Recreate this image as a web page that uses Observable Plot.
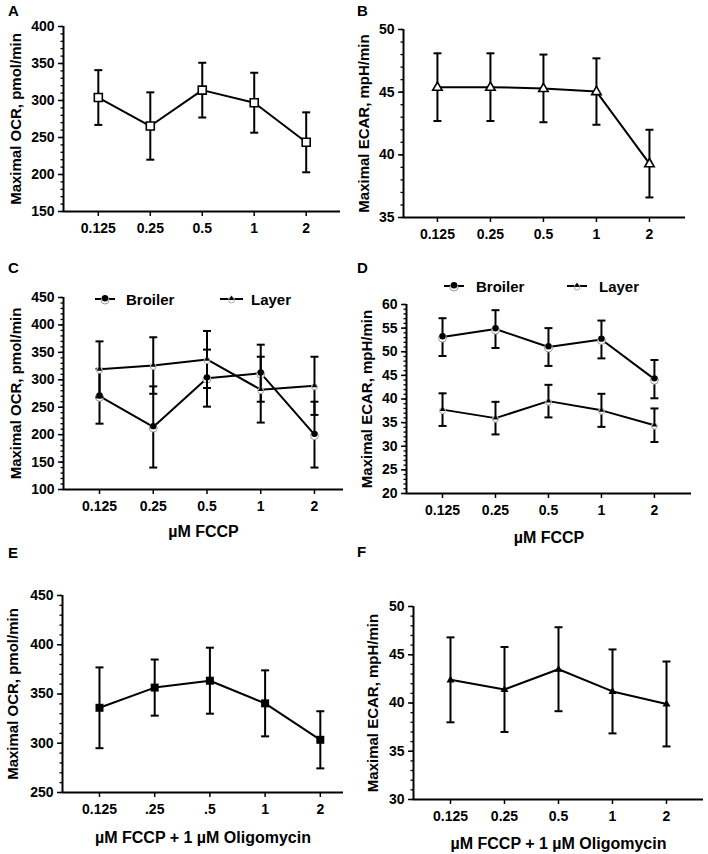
<!DOCTYPE html>
<html><head><meta charset="utf-8">
<script src="https://cdn.jsdelivr.net/npm/d3@7"></script>
<script src="https://cdn.jsdelivr.net/npm/@observablehq/plot@0.6"></script>
<style>
body{margin:0;background:#fff;}
#root{position:relative;width:708px;height:854px;overflow:hidden;font-family:"Liberation Sans",Arial,sans-serif;font-weight:bold;color:#000;}
.panel{position:absolute;overflow:hidden;}
.letter{position:absolute;font-size:15px;line-height:1;}
</style></head><body><div id="root"></div>
<script>
// ---- data ----
const doseLabels = ["0.125", "0.25", "0.5", "1", "2"];
const doseLabelsE = ["0.125", ".25", ".5", "1", "2"];

const aMean = [304, 265.5, 314, 297, 243.5];
const aSem  = [37, 45.5, 37, 40.5, 40.5];

const bMean = [45.4, 45.4, 45.3, 45.05, 39.3];
const bSem  = [2.7, 2.7, 2.7, 2.65, 2.7];

const cBroilerMean = [270, 214, 303, 312, 200];
const cBroilerSem  = [50, 74, 52, 52, 60];
const cLayerMean   = [319, 326, 337, 282, 289];
const cLayerSem    = [51, 51.5, 52, 60, 53];

const dBroilerMean = [53.1, 54.8, 51.0, 52.6, 44.2];
const dBroilerSem  = [4.0, 4.0, 4.0, 4.0, 4.05];
const dLayerMean   = [37.75, 35.95, 39.55, 37.6, 34.45];
const dLayerSem    = [3.45, 3.45, 3.45, 3.5, 3.55];

const eMean = [336, 356.5, 363.5, 340.5, 303.5];
const eSem  = [41, 28.5, 33.5, 33.5, 29];

const fMean = [42.4, 41.4, 43.5, 41.2, 39.9];
const fSem  = [4.4, 4.4, 4.35, 4.35, 4.4];

const seriesNames = ["Broiler", "Layer"];

// ---- helpers ----
const rows = (m, s) => m.map((v, i) => ({i, mean: v, lo: v - s[i], hi: v + s[i]}));
const capSym = w => ({draw(ctx){ ctx.moveTo(-w, 0); ctx.lineTo(w, 0); }});
const triSym = s => ({draw(ctx){ const h = s * 0.866; ctx.moveTo(0, -h * 0.62); ctx.lineTo(s / 2, h * 0.38); ctx.lineTo(-s / 2, h * 0.38); ctx.closePath(); }});
const sqSym = s => ({draw(ctx){ ctx.rect(-s / 2, -s / 2, s, s); }});
const circSym = r => ({draw(ctx){ ctx.moveTo(r, 0); ctx.arc(0, 0, r, 0, 2 * Math.PI); }});

function seriesMarks(data, markers) {
  return [
    Plot.ruleX(data, {x: "i", y1: "lo", y2: "hi", stroke: "black", strokeWidth: 2}),
    Plot.dot(data, {x: "i", y: "hi", symbol: capSym(4), stroke: "black", strokeWidth: 2, fill: "none"}),
    Plot.dot(data, {x: "i", y: "lo", symbol: capSym(4), stroke: "black", strokeWidth: 2, fill: "none"}),
    Plot.line(data, {x: "i", y: "mean", stroke: "black", strokeWidth: 2}),
    ...markers.map(mk => Plot.dot(data, {x: "i", y: "mean", ...mk}))
  ];
}

const broilerMarkers = [
  {symbol: circSym(4), stroke: "#9a9a9a", strokeWidth: 1, fill: "white", dy: 1},
  {symbol: circSym(3.2), fill: "black", dy: -0.8}
];
const layerMarkers = [
  {symbol: circSym(3), stroke: "#aaaaaa", strokeWidth: 1, fill: "white", dy: 1},
  {symbol: triSym(5.5), fill: "black", dy: -0.5}
];

const root = document.getElementById("root");

function letter(t, x, baseline) {
  const d = document.createElement("div");
  d.className = "letter";
  d.textContent = t;
  d.style.left = x + "px";
  d.style.top = (baseline - 12.7) + "px";
  root.appendChild(d);
}

function panel(cfg) {
  const {left, top, width, height, ax, xEnd, yTop, yBot, yDomain, major, minor,
         padL, padR, ticks, ylabel, ylabelX, xlabel, xlabelY, series, legend} = cfg;
  const marks = [
    Plot.axisY(minor, {tickSize: 2.5, tickFormat: () => "", label: null, strokeWidth: 1.3}),
    Plot.axisY(major, {tickSize: 5, tickPadding: 4, label: null, strokeWidth: 1.5, fontSize: 14}),
    Plot.axisX([0, 1, 2, 3, 4], {tickSize: 5, tickPadding: 7, tickFormat: i => ticks[i], label: null, strokeWidth: 1.5, fontSize: 14}),
    Plot.ruleX([-padL], {stroke: "black", strokeWidth: 2}),
    Plot.ruleY([yDomain[0]], {stroke: "black", strokeWidth: 2}),
    Plot.text([ylabel], {text: d => d, frameAnchor: "left", textAnchor: "middle", lineAnchor: "middle", rotate: -90, dx: ylabelX - ax, fontSize: 15, fontWeight: "bold"})
  ];
  if (xlabel) marks.push(Plot.text([xlabel], {text: d => d, frameAnchor: "bottom", textAnchor: "middle", dy: xlabelY - yBot, lineAnchor: "middle", fontSize: 16, fontWeight: "bold"}));
  series.forEach(s => marks.push(...seriesMarks(s.data, s.markers)));
  const svg = Plot.plot({
    width, height,
    marginLeft: ax - left, marginRight: left + width - xEnd,
    marginTop: yTop - top, marginBottom: top + height - yBot,
    x: {type: "linear", domain: [-padL, 4 + padR]},
    y: {domain: yDomain},
    style: {fontFamily: "'Liberation Sans', Arial, sans-serif", fontSize: "14px", fontWeight: "bold", color: "black", background: "transparent", overflow: "visible"},
    marks
  });
  if (legend) {
    const g = d3.select(svg).append("g").attr("font-size", 15).attr("font-weight", "bold").attr("fill", "black").attr("text-anchor", "start");
    legend.forEach((L, k) => {
      const y = L.y - top;
      g.append("line").attr("x1", L.x1 - left).attr("x2", L.x2 - left).attr("y1", y).attr("y2", y).attr("stroke", "black").attr("stroke-width", 2);
      const cx = (L.x1 + L.x2) / 2 - left;
      if (k === 0) {
        g.append("circle").attr("cx", cx).attr("cy", y + 1).attr("r", 4).attr("fill", "white").attr("stroke", "#9a9a9a");
        g.append("circle").attr("cx", cx).attr("cy", y - 0.8).attr("r", 3.2).attr("fill", "black");
      } else {
        g.append("circle").attr("cx", cx).attr("cy", y + 1).attr("r", 3).attr("fill", "white").attr("stroke", "#aaaaaa");
        g.append("path").attr("d", `M${cx},${y - 3.5}L${cx + 2.8},${y + 1}L${cx - 2.8},${y + 1}Z`).attr("fill", "black");
      }
      g.append("text").attr("x", L.tx - left).attr("y", y + 5.5).attr("text-anchor", "start").text(seriesNames[k]);
    });
  }
  const div = document.createElement("div");
  div.className = "panel";
  div.style.left = left + "px";
  div.style.top = top + "px";
  div.style.width = width + "px";
  div.style.height = height + "px";
  div.appendChild(svg);
  root.appendChild(div);
}

// A
panel({left: 0, top: 0, width: 354, height: 262, ax: 63, xEnd: 340, yTop: 26, yBot: 211,
  yDomain: [150, 400], major: d3.range(150, 401, 50), minor: d3.range(150, 401, 10),
  padL: 0.67, padR: 0.66, ticks: doseLabels, ylabel: "Maximal OCR, pmol/min", ylabelX: 16,
  series: [{data: rows(aMean, aSem), markers: [{symbol: sqSym(8), stroke: "black", strokeWidth: 1.6, fill: "white"}]}]});
// B
panel({left: 354, top: 0, width: 354, height: 262, ax: 403, xEnd: 685, yTop: 29, yBot: 217,
  yDomain: [35, 50], major: d3.range(35, 51, 5), minor: d3.range(35, 51, 1),
  padL: 0.64, padR: 0.68, ticks: doseLabels, ylabel: "Maximal ECAR, mpH/min", ylabelX: 364,
  series: [{data: rows(bMean, bSem), markers: [{symbol: triSym(9.5), stroke: "black", strokeWidth: 1.6, fill: "white"}]}]});
// C
panel({left: 0, top: 262, width: 354, height: 280, ax: 63, xEnd: 343, yTop: 297, yBot: 489,
  yDomain: [100, 450], major: d3.range(100, 451, 50), minor: d3.range(100, 451, 10),
  padL: 0.67, padR: 0.54, ticks: doseLabels, ylabel: "Maximal OCR, pmol/min", ylabelX: 15.5,
  xlabel: "µM FCCP", xlabelY: 531,
  series: [{data: rows(cBroilerMean, cBroilerSem), markers: broilerMarkers},
           {data: rows(cLayerMean, cLayerSem), markers: layerMarkers}],
  legend: [{x1: 95, x2: 115, y: 299, tx: 126}, {x1: 220, x2: 243, y: 299, tx: 251}]});
// D
panel({left: 354, top: 262, width: 354, height: 285, ax: 406, xEnd: 691, yTop: 304, yBot: 493,
  yDomain: [20, 60], major: d3.range(20, 61, 5), minor: d3.range(20, 61, 1),
  padL: 0.68, padR: 0.70, ticks: doseLabels, ylabel: "Maximal ECAR, mpH/min", ylabelX: 367,
  xlabel: "µM FCCP", xlabelY: 537,
  series: [{data: rows(dBroilerMean, dBroilerSem), markers: broilerMarkers},
           {data: rows(dLayerMean, dLayerSem), markers: layerMarkers}],
  legend: [{x1: 444, x2: 464, y: 286, tx: 476}, {x1: 567, x2: 587, y: 286, tx: 599}]});
// E
panel({left: 0, top: 540, width: 354, height: 314, ax: 62, xEnd: 343, yTop: 595, yBot: 792,
  yDomain: [250, 450], major: d3.range(250, 451, 50), minor: d3.range(250, 451, 10),
  padL: 0.67, padR: 0.42, ticks: doseLabelsE, ylabel: "Maximal OCR, pmol/min", ylabelX: 13,
  xlabel: "µM FCCP + 1 µM Oligomycin", xlabelY: 837,
  series: [{data: rows(eMean, eSem), markers: [{symbol: sqSym(8), fill: "black"}]}]});
// F
panel({left: 354, top: 540, width: 354, height: 314, ax: 413, xEnd: 703, yTop: 606, yBot: 799,
  yDomain: [30, 50], major: d3.range(30, 51, 5), minor: d3.range(30, 51, 1),
  padL: 0.685, padR: 0.685, ticks: doseLabels, ylabel: "Maximal ECAR, mpH/min", ylabelX: 373,
  xlabel: "µM FCCP + 1 µM Oligomycin", xlabelY: 843,
  series: [{data: rows(fMean, fSem), markers: [{symbol: triSym(8), fill: "black"}]}]});

letter("A", 8, 16);
letter("B", 357, 16);
letter("C", 8, 273);
letter("D", 357, 273);
letter("E", 8, 558);
letter("F", 357, 557);
</script></body></html>
